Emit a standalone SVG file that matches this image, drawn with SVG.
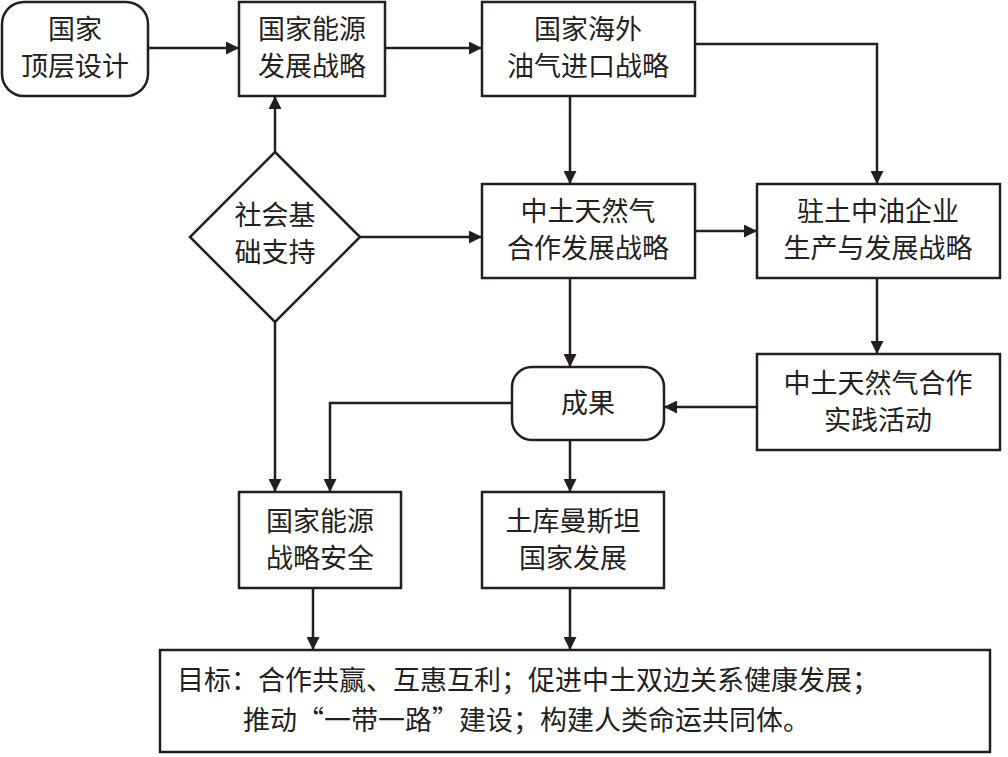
<svg xmlns="http://www.w3.org/2000/svg" width="1008" height="757" viewBox="0 0 1008 757">
<style>
.b{fill:#fff;stroke:#231f20;stroke-width:2.5}
.t{font-family:"Noto Sans CJK SC",sans-serif;font-size:27px;fill:#231f20;text-anchor:middle}
.c{fill:none;stroke:#231f20;stroke-width:2.5;marker-end:url(#a)}
</style>
<defs><marker id="a" viewBox="0 0 10 10" refX="10" refY="5" markerWidth="13" markerHeight="13" orient="auto" markerUnits="userSpaceOnUse"><path d="M0,0L10,5L0,10z" fill="#231f20"/></marker></defs>
<rect width="1008" height="757" fill="#fff"/>
<g id="connectors">
<path class="c" d="M148,48H239"/>
<path class="c" d="M385,48H482"/>
<path class="c" d="M695,44H877V184"/>
<path class="c" d="M570,96V184"/>
<path class="c" d="M275,152V96"/>
<path class="c" d="M360,237H482"/>
<path class="c" d="M695,231H757"/>
<path class="c" d="M877,278V354"/>
<path class="c" d="M570,278V367"/>
<path class="c" d="M757,407H664"/>
<path class="c" d="M512,403H330V492"/>
<path class="c" d="M275,322V492"/>
<path class="c" d="M570,440V492"/>
<path class="c" d="M313,588V650"/>
<path class="c" d="M570,588V650"/>
</g>
<g id="n1"><rect class="b" x="2" y="2" width="146" height="94" rx="22"/><text class="t" x="75" y="39">国家</text><text class="t" x="75" y="76">顶层设计</text></g>
<g id="n2"><rect class="b" x="239" y="2" width="146" height="94"/><text class="t" x="312" y="39">国家能源</text><text class="t" x="312" y="76">发展战略</text></g>
<g id="n3"><rect class="b" x="482" y="2" width="213" height="94"/><text class="t" x="588" y="39">国家海外</text><text class="t" x="588" y="76">油气进口战略</text></g>
<g id="n4"><path class="b" d="M275,152L360,237L275,322L190,237z"/><text class="t" x="275" y="225">社会基</text><text class="t" x="275" y="262">础支持</text></g>
<g id="n5"><rect class="b" x="482" y="184" width="213" height="94"/><text class="t" x="588" y="221">中土天然气</text><text class="t" x="588" y="258">合作发展战略</text></g>
<g id="n6"><rect class="b" x="757" y="184" width="243" height="94"/><text class="t" x="878" y="221">驻土中油企业</text><text class="t" x="878" y="258">生产与发展战略</text></g>
<g id="n7"><rect class="b" x="512" y="367" width="152" height="73" rx="20"/><text class="t" x="588" y="413">成果</text></g>
<g id="n8"><rect class="b" x="757" y="354" width="243" height="96"/><text class="t" x="878" y="393">中土天然气合作</text><text class="t" x="878" y="430">实践活动</text></g>
<g id="n9"><rect class="b" x="239" y="492" width="162" height="96"/><text class="t" x="320" y="531">国家能源</text><text class="t" x="320" y="568">战略安全</text></g>
<g id="n10"><rect class="b" x="482" y="492" width="182" height="96"/><text class="t" x="573" y="531">土库曼斯坦</text><text class="t" x="573" y="568">国家发展</text></g>
<g id="n11"><rect class="b" x="160" y="650" width="830" height="102"/><text class="t" x="177" y="690" style="text-anchor:start">目标：合作共赢、互惠互利；促进中土双边关系健康发展；</text><text class="t" x="243" y="730" style="text-anchor:start">推动“一带一路”建设；构建人类命运共同体。</text></g>
</svg>
